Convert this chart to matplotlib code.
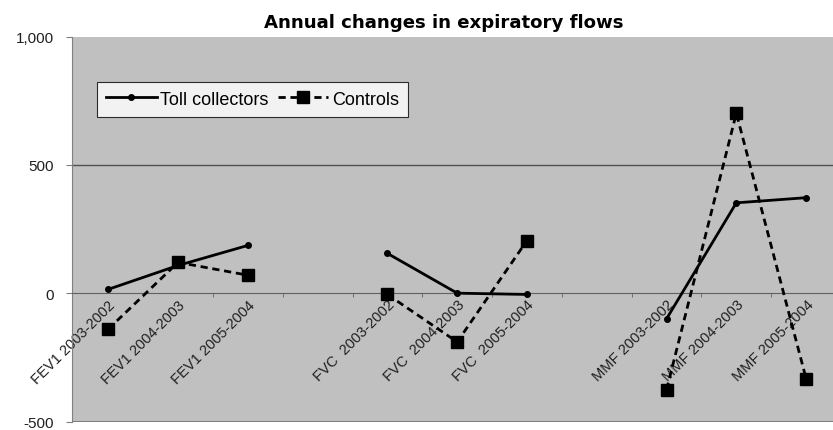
import numpy as np
import matplotlib.pyplot as plt
from matplotlib.ticker import FuncFormatter

plt.rcParams['font.family'] = ['Liberation Sans', 'DejaVu Sans']

# categories (empty strings are the gaps between groups)
categories = ["FEV1 2003-2002", "FEV1 2004-2003", "FEV1 2005-2004", "",
              "FVC  2003-2002", "FVC  2004-2003", "FVC  2005-2004", "",
              "MMF 2003-2002", "MMF 2004-2003", "MMF 2005-2004"]
toll = [15, 108, 186, np.nan, 155, 0, -5, np.nan, -100, 352, 372]
controls = [-140, 120, 70, np.nan, -5, -190, 205, np.nan, -376, 701, -333]

x = np.arange(len(categories))

fig = plt.figure(figsize=(8.33, 4.31), dpi=100)
ax = fig.add_axes([72 / 833, 8.5 / 431, 769 / 833, 385 / 431])
ax.set_facecolor('#c0c0c0')

# draw segments per group so gaps are not bridged
groups = [(0, 3), (4, 7), (8, 11)]
for gi, (a, b) in enumerate(groups):
    ax.plot(x[a:b], toll[a:b], color='black', lw=2, marker='o', ms=4,
            label='Toll collectors' if gi == 0 else None, zorder=3)
    ax.plot(x[a:b], controls[a:b], color='black', lw=2, ls=(0, (2.6, 1.7)),
            marker='s', ms=9, label='Controls' if gi == 0 else None, zorder=3)

ax.set_xlim(-0.52, 10.5)
ax.set_ylim(-500, 1000)
ax.set_yticks([-500, 0, 500, 1000])
ax.yaxis.set_major_formatter(FuncFormatter(lambda v, p: f"{int(v):,}"))
ax.tick_params(axis='y', labelsize=11, length=4, pad=9, color='#808080',
               labelcolor='#202020')
ax.axhline(500, color='#505050', lw=1, zorder=1)

# x axis crosses at 0
ax.spines['bottom'].set_position(('data', 0))
ax.spines['bottom'].set_color('#606060')
ax.axhline(-500, color='#808080', lw=1.5, zorder=1)
for s in ['top', 'right']:
    ax.spines[s].set_visible(False)
ax.spines['left'].set_color('#808080')
ax.set_xticks(x)
ax.set_xticklabels(categories, rotation=45, ha='right', rotation_mode='anchor',
                   fontsize=10.5, color='#202020')
ax.set_xticks(np.arange(len(categories) - 1) + 0.5, minor=True)
ax.tick_params(axis='x', which='major', length=0, pad=3)
ax.tick_params(axis='x', which='minor', length=3, color='#606060')

ax.set_title('Annual changes in expiratory flows', fontsize=13.1, fontweight='bold',
             family='DejaVu Sans', pad=7, x=0.484)

leg = ax.legend(loc='upper left', bbox_to_anchor=(0.0325, 0.8826), ncol=2,
                fontsize=13, handlelength=2.8, frameon=True, fancybox=False,
                edgecolor='black', columnspacing=0.5, handletextpad=0.2,
                borderpad=0.5, borderaxespad=0)
leg.get_frame().set_linewidth(0.8)

fig.savefig('out.png', dpi=100)
